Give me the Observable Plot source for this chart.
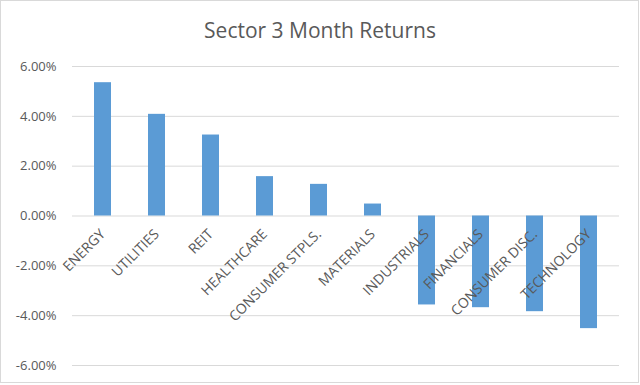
<!DOCTYPE html>
<html>
<head>
<meta charset="utf-8">
<script src="https://cdn.jsdelivr.net/npm/d3@7"></script>
<script src="https://cdn.jsdelivr.net/npm/@observablehq/plot@0.6"></script>
<style>
  html, body { margin: 0; padding: 0; background: #fff; }
  #wrap { position: relative; width: 640px; height: 385px; background: #fff; overflow: hidden; }
  #frame { position: absolute; left: 0; top: 0; width: 637px; height: 381px; border: 1px solid #d9d9d9; pointer-events: none; }
  #title { position: absolute; left: 0; top: 0; width: 640px; height: 50px; text-align: center;
           font-family: "Open Sans", sans-serif; font-size: 21px; color: #595959; line-height: 1; }
  #title span { position: relative; top: 20px; }
  #chart { position: absolute; left: 0; top: 50px; }
</style>
</head>
<body>
<div id="wrap">
  <div id="title"><span>Sector 3 Month Returns</span></div>
  <div id="chart"></div>
  <div id="frame"></div>
</div>
<script>
const categories = ["ENERGY", "UTILITIES", "REIT", "HEALTHCARE", "CONSUMER STPLS.", "MATERIALS", "INDUSTRIALS", "FINANCIALS", "CONSUMER DISC.", "TECHNOLOGY"];
const returns = [5.35, 4.08, 3.25, 1.58, 1.27, 0.48, -3.57, -3.68, -3.84, -4.52];
const yTicks = [-6, -4, -2, 0, 2, 4, 6];

const data = categories.map((c, i) => ({ sector: c, value: returns[i] }));

const chart = Plot.plot({
  width: 640,
  height: 335,
  marginTop: 16,
  marginBottom: 20,
  marginLeft: 72,
  marginRight: 21,
  style: { fontFamily: "'Open Sans', sans-serif", fontSize: "13px", color: "#595959", background: "transparent" },
  x: { domain: categories, paddingInner: 0.69, paddingOuter: 0.345, axis: null },
  y: { domain: [-6, 6], axis: null },
  marks: [
    Plot.ruleY(yTicks, { stroke: "#d9d9d9", strokeWidth: 1 }),
    Plot.barY(data, { x: "sector", y: "value", fill: "#5B9BD5" }),
    Plot.text(data, {
      x: "sector", y: 0, text: "sector",
      rotate: -45, textAnchor: "end", lineAnchor: "top",
      dx: -4, dy: 12, fontSize: 14, fill: "#595959"
    }),
    Plot.axisY(yTicks, {
      label: null, tickSize: 0, tickPadding: 16, fontSize: 13,
      tickFormat: d => d.toFixed(2) + "%"
    })
  ]
});
document.getElementById("chart").appendChild(chart);
</script>
</body>
</html>
